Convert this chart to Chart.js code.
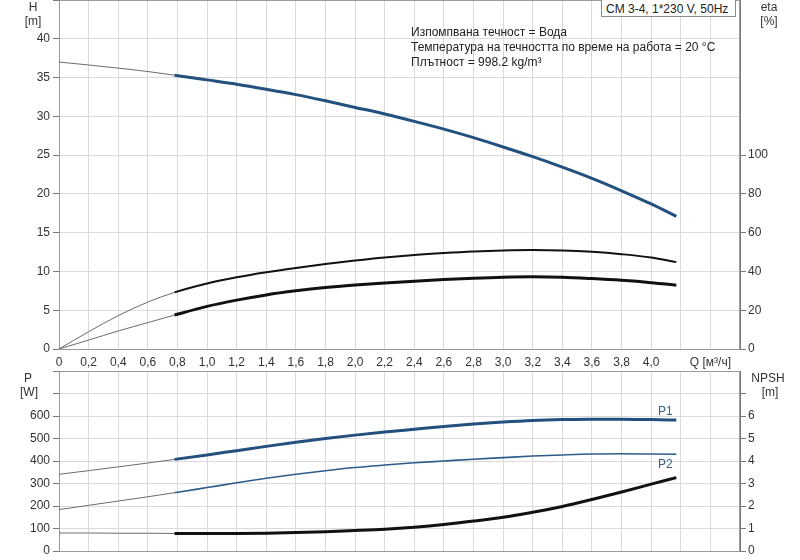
<!DOCTYPE html>
<html>
<head>
<meta charset="utf-8">
<script src="https://cdn.jsdelivr.net/npm/chart.js@4.4.1/dist/chart.umd.min.js"></script>
<style>
  body { margin: 0; background: #fff; }
  #wrap { position: relative; width: 800px; height: 560px; overflow: hidden;
          font-family: "Liberation Sans", Arial, sans-serif; color: #222; }
  canvas { position: absolute; left: 0; }
  #topChart { top: 0; }
  #bottomChart { top: 370px; }
  .txt { position: absolute; font-size: 12px; line-height: 14px; white-space: nowrap; }
  .unit { position: absolute; font-size: 12px; line-height: 14px; text-align: center; width: 50px; color: #333; }
  #pumpBox { position: absolute; left: 601px; top: -1px; width: 135px; height: 18px;
             border: 1px solid #8a8a8a; background: #fff; font-size: 12px; line-height: 18px;
             padding-left: 4px; box-sizing: border-box; white-space: nowrap; }
</style>
</head>
<body>
<div id="wrap">
  <canvas id="topChart" width="800" height="370"></canvas>
  <canvas id="bottomChart" width="800" height="190"></canvas>

  <div class="unit" style="left:8px;top:0px">H</div>
  <div class="unit" style="left:8px;top:14px">[m]</div>
  <div class="unit" style="left:744px;top:0px">eta</div>
  <div class="unit" style="left:744px;top:14px">[%]</div>
  <div class="unit" style="left:3px;top:371px">P</div>
  <div class="unit" style="left:4px;top:385px">[W]</div>
  <div class="unit" style="left:743px;top:371px">NPSH</div>
  <div class="unit" style="left:745px;top:385px">[m]</div>

  <div id="pumpBox">CM 3-4, 1*230 V, 50Hz</div>
  <div class="txt" style="left:411px;top:25px">Изпомпвана течност = Вода</div>
  <div class="txt" style="left:411px;top:40px">Температура на течността по време на работа = 20 °C</div>
  <div class="txt" style="left:411px;top:55px">Плътност = 998.2 kg/m³</div>
</div>

<script>
// flow points [m3/h]
const flow = [0, 0.2, 0.4, 0.6, 0.78, 1.0, 1.2, 1.4, 1.6, 1.8, 2.0, 2.2, 2.4, 2.6, 2.8, 3.0, 3.2, 3.4, 3.6, 3.8, 4.0, 4.17];

// head [m]
const head = [37.0, 36.62, 36.22, 35.78, 35.3, 34.7, 34.15, 33.5, 32.8, 32.0, 31.15, 30.3, 29.35, 28.35, 27.25, 26.05, 24.8, 23.45, 22.0, 20.4, 18.7, 17.1];

// efficiencies [%]
const etaPump = [0, 8.9, 17.2, 24.2, 29.2, 33.8, 37.0, 39.6, 41.8, 43.8, 45.6, 47.2, 48.5, 49.5, 50.3, 50.8, 51.0, 50.8, 50.1, 48.9, 47.2, 44.8];
const etaTotal = [0, 4.6, 9.3, 13.6, 17.5, 22.0, 25.2, 27.9, 30.0, 31.7, 33.0, 34.1, 35.0, 35.8, 36.5, 37.0, 37.2, 37.0, 36.3, 35.4, 34.2, 32.9];

// power [W]
const powerP1 = [341, 357, 374, 391, 407, 427, 446, 465, 483, 500, 515, 529, 541, 553, 564, 573, 580, 584, 586, 586, 584, 582];
const powerP2 = [184, 203, 222, 241, 259, 282, 303, 323, 341, 357, 371, 382, 392, 400, 408, 415, 422, 427, 431, 432, 431, 430];

// NPSH [m]
const npsh = [0.8, 0.8, 0.79, 0.79, 0.78, 0.78, 0.78, 0.79, 0.82, 0.86, 0.91, 0.97, 1.06, 1.18, 1.33, 1.5, 1.72, 1.98, 2.29, 2.62, 2.97, 3.26];

const xTicksLabel = 'Q [м³/ч]';
const dutyStart = 0.78;

const blue = '#23507e';
const black = '#111111';
const gridColor = '#dadada';
const axisColor = '#7a7a7a';

Chart.defaults.font.family = '"Liberation Sans", Arial, sans-serif';
Chart.defaults.font.size = 12;
Chart.defaults.color = '#333';

function points(values) {
  return flow.map((q, i) => ({ x: q, y: values[i] }));
}

function curve(values, color, width, axis, extra) {
  return Object.assign({
    data: points(values),
    yAxisID: axis,
    borderColor: color,
    borderWidth: width,
    pointRadius: 0,
    fill: false,
    cubicInterpolationMode: 'monotone',
    segment: {
      borderWidth: ctx => ctx.p0.parsed.x < dutyStart - 0.001 ? 1 : width,
      borderColor: ctx => ctx.p0.parsed.x < dutyStart - 0.001 ? '#6b6b6b' : color
    }
  }, extra || {});
}

function fixWidth(w) {
  return s => { s.width = w; s.paddingTop = 0; s.paddingBottom = 0; };
}
function fixHeight(h) {
  return s => { s.height = h; s.paddingLeft = 0; s.paddingRight = 0; };
}

const framePlugin = {
  id: 'frame',
  beforeDatasetsDraw(chart) {
    const a = chart.chartArea;
    const ctx = chart.ctx;
    ctx.save();
    ctx.strokeStyle = '#9a9a9a';
    ctx.lineWidth = 1;
    ctx.strokeRect(a.left + 0.5, a.top + 0.5, a.right - a.left - 1, a.bottom - a.top);
    ctx.restore();
  }
};

const endLabelPlugin = {
  id: 'endLabel',
  afterDatasetsDraw(chart) {
    const ctx = chart.ctx;
    chart.data.datasets.forEach((ds, i) => {
      if (!ds.endLabel) return;
      const meta = chart.getDatasetMeta(i);
      const last = meta.data[meta.data.length - 1];
      ctx.save();
      ctx.font = '12px "Liberation Sans", Arial, sans-serif';
      ctx.fillStyle = '#3a5f86';
      ctx.textAlign = 'center';
      ctx.textBaseline = 'middle';
      ctx.fillText(ds.endLabel.text, last.x - 11, last.y + ds.endLabel.dy);
      ctx.restore();
    });
  }
};

const xTicks = {
  min: 0, max: 4.6,
  ticks: { stepSize: 0.2 }
};

new Chart(document.getElementById('topChart'), {
  type: 'line',
  data: {
    datasets: [
      curve(head, blue, 3, 'y'),
      curve(etaPump, black, 2, 'y2'),
      curve(etaTotal, black, 3, 'y2')
    ]
  },
  options: {
    responsive: false,
    animation: false,
    layout: { padding: 0 },
    plugins: { legend: { display: false }, tooltip: { enabled: false } },
    scales: {
      x: {
        type: 'linear',
        min: xTicks.min, max: xTicks.max,
        afterFit: fixHeight(21),
        border: { color: axisColor },
        grid: { color: gridColor, drawTicks: false },
        ticks: {
          stepSize: xTicks.ticks.stepSize,
          autoSkip: false,
          maxRotation: 0,
          padding: 6,
          callback: v => {
            if (Math.abs(v - 4.4) < 0.01) return xTicksLabel;
            if (v > 4.05) return '';
            if (v === 0) return '0';
            return v.toFixed(1).replace('.', ',');
          }
        }
      },
      y: {
        position: 'left',
        min: 0, max: 45,
        afterFit: fixWidth(59),
        border: { color: axisColor },
        grid: { color: gridColor, tickLength: 6, tickColor: axisColor },
        ticks: { stepSize: 5, padding: 3, callback: v => v <= 40 ? v : '' }
      },
      y2: {
        position: 'right',
        min: 0, max: 180,
        afterFit: fixWidth(60),
        afterBuildTicks: s => { s.ticks = s.ticks.filter(t => t.value <= 100); },
        border: { color: axisColor },
        grid: { drawOnChartArea: false, tickLength: 6, tickColor: axisColor },
        ticks: { stepSize: 20, padding: 2 }
      }
    }
  },
  plugins: [framePlugin]
});

new Chart(document.getElementById('bottomChart'), {
  type: 'line',
  data: {
    datasets: [
      curve(powerP1, blue, 3, 'y', { endLabel: { text: 'P1', dy: -8 } }),
      curve(powerP2, '#2e5c8a', 1.6, 'y', { endLabel: { text: 'P2', dy: 10 } }),
      curve(npsh, black, 3, 'y2')
    ]
  },
  options: {
    responsive: false,
    animation: false,
    layout: { padding: { top: 1 } },
    plugins: { legend: { display: false }, tooltip: { enabled: false } },
    scales: {
      x: {
        type: 'linear',
        min: xTicks.min, max: xTicks.max,
        afterFit: fixHeight(9),
        border: { color: axisColor },
        grid: { color: gridColor, drawTicks: false },
        ticks: { stepSize: xTicks.ticks.stepSize, autoSkip: false, display: false }
      },
      y: {
        position: 'left',
        min: 0, max: 800,
        afterFit: fixWidth(59),
        border: { color: axisColor },
        grid: { color: gridColor, tickLength: 6, tickColor: axisColor },
        ticks: { stepSize: 100, padding: 3, callback: v => v <= 600 ? v : '' }
      },
      y2: {
        position: 'right',
        min: 0, max: 8,
        afterFit: fixWidth(60),
        afterBuildTicks: s => { s.ticks = s.ticks.filter(t => t.value <= 7); },
        border: { color: axisColor },
        grid: { drawOnChartArea: false, tickLength: 6, tickColor: axisColor },
        ticks: { stepSize: 1, padding: 2, callback: v => v <= 6 ? v : '' }
      }
    }
  },
  plugins: [framePlugin, endLabelPlugin]
});
</script>
</body>
</html>
